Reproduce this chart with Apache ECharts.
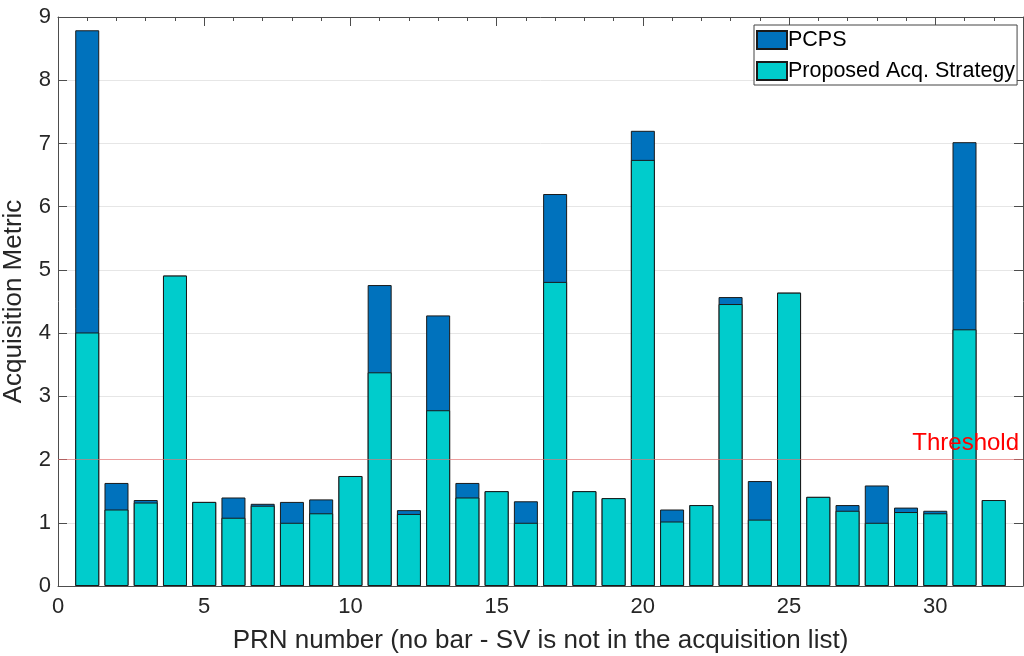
<!DOCTYPE html>
<html>
<head>
<meta charset="utf-8">
<script src="https://cdn.jsdelivr.net/npm/echarts@6/dist/echarts.min.js"></script>
<style>
  html, body { margin: 0; padding: 0; background: #fff; }
  #chart { width: 1024px; height: 656px; }
</style>
</head>
<body>
<div id="chart"></div>
<script>
// PRN numbers of the satellites in the acquisition list
const prn = [1,2,3,4,5,6,7,8,9,10,11,12,13,14,15,16,17,18,19,20,21,22,23,24,25,26,27,28,29,30,31,32];
// Acquisition metric obtained with PCPS
const pcps = [8.79,1.63,1.36,4.91,1.33,1.40,1.30,1.33,1.37,1.74,4.76,1.20,4.28,1.63,1.50,1.34,6.20,1.50,1.39,7.20,1.21,1.28,4.57,1.66,4.64,1.41,1.28,1.59,1.24,1.19,7.02,1.36];
// Acquisition metric obtained with the proposed strategy
const proposed = [4.01,1.21,1.32,4.91,1.33,1.08,1.27,1.00,1.15,1.74,3.38,1.14,2.78,1.40,1.50,1.00,4.81,1.50,1.39,6.74,1.02,1.28,4.46,1.05,4.64,1.41,1.19,1.00,1.17,1.15,4.06,1.36];
const threshold = 2;

const font = 'Liberation Sans, Arial, Helvetica, sans-serif';
const axisColor = '#4d4d4d';
const textColor = '#262626';

const chart = echarts.init(document.getElementById('chart'), null, { renderer: 'canvas' });

const xCommon = {
  type: 'value', min: 0, max: 33, interval: 5,
  axisLine: { show: true, onZero: false, lineStyle: { color: axisColor, width: 1 } },
  axisTick: { show: true, inside: true, length: 9, lineStyle: { color: axisColor } },
  minorTick: { show: true, splitNumber: 5, length: 4, lineStyle: { color: axisColor } },
  splitLine: { show: false }
};
const yCommon = {
  type: 'value', min: 0, max: 9, interval: 1,
  axisLine: { show: true, onZero: false, lineStyle: { color: axisColor, width: 1 } },
  axisTick: { show: true, inside: true, length: 9, lineStyle: { color: axisColor } }
};

chart.setOption({
  animation: false,
  backgroundColor: '#ffffff',
  grid: { left: 58, right: 1, top: 17, bottom: 70, containLabel: false, outerBoundsMode: 'none' },
  legend: {
    left: 754, top: 25,
    orient: 'vertical',
    icon: 'rect',
    itemWidth: 30, itemHeight: 18, itemGap: 9,
    padding: [4, 2, 3, 2],
    borderColor: '#444', borderWidth: 1, backgroundColor: '#fff',
    textStyle: { fontFamily: font, fontSize: 21.5, color: '#000', padding: [0, 0, 0, -4] },
    data: ['PCPS', 'Proposed Acq. Strategy']
  },
  xAxis: [
    Object.assign({}, xCommon, {
      position: 'bottom',
      name: 'PRN number (no bar - SV is not in the acquisition list)',
      nameLocation: 'middle', nameGap: 42, nameMoveOverlap: false,
      nameTextStyle: { fontFamily: font, fontSize: 26, color: textColor },
      axisLabel: {
        fontFamily: font, fontSize: 22, color: textColor, margin: 10,
        showMaxLabel: false,
        formatter: v => (v % 5 === 0 ? String(v) : '')
      }
    }),
    Object.assign({}, xCommon, { position: 'top', axisLabel: { show: false } })
  ],
  yAxis: [
    Object.assign({}, yCommon, {
      position: 'left',
      name: 'Acquisition Metric',
      nameLocation: 'middle', nameGap: 31, nameMoveOverlap: false,
      nameTextStyle: { fontFamily: font, fontSize: 26, color: textColor },
      axisLabel: { fontFamily: font, fontSize: 22, color: textColor, margin: 7 },
      splitLine: { show: true, lineStyle: { color: '#e6e6e6', width: 1 } }
    }),
    Object.assign({}, yCommon, {
      position: 'right',
      axisLabel: { show: false },
      splitLine: { show: false }
    })
  ],
  series: [
    {
      name: 'PCPS', type: 'bar',
      xAxisIndex: 0, yAxisIndex: 0,
      barWidth: 24, barGap: '-100%',
      itemStyle: { color: '#0072BD', borderColor: '#1a1a1a', borderWidth: 1 },
      data: prn.map((p, i) => [p, pcps[i]]),
      z: 2
    },
    {
      name: 'Proposed Acq. Strategy', type: 'bar',
      xAxisIndex: 0, yAxisIndex: 0,
      barWidth: 24, barGap: '-100%',
      itemStyle: { color: '#00CCCC', borderColor: '#1a1a1a', borderWidth: 1 },
      data: prn.map((p, i) => [p, proposed[i]]),
      z: 3,
      markLine: {
        silent: true, symbol: 'none', z: 5,
        lineStyle: { color: 'rgba(240,110,110,0.6)', type: 'solid', width: 1 },
        label: {
          show: true, position: 'insideEndTop', formatter: 'Threshold',
          fontFamily: font, fontSize: 24, color: '#ff0000', distance: [4, 4]
        },
        data: [{ yAxis: threshold }]
      }
    }
  ]
});
</script>
</body>
</html>
